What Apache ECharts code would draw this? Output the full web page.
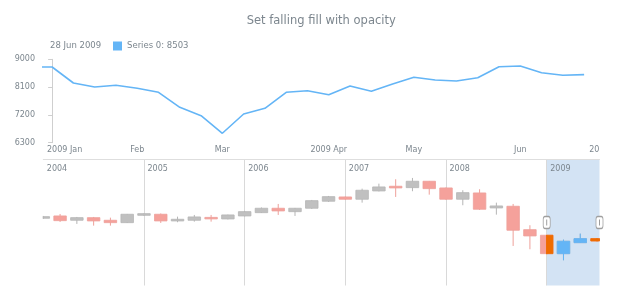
<!DOCTYPE html>
<html><head><meta charset="utf-8">
<script src="https://cdn.jsdelivr.net/npm/echarts@6/dist/echarts.min.js"></script>
<style>html,body{margin:0;padding:0;background:#fff}#c{width:620px;height:300px}</style>
</head><body><div id="c"></div>
<script>
// ---- data ----
const titleText = 'Set falling fill with opacity';
const seriesName = 'Series 0';
const viewStart = '2009-01-01';
const weekDates = ['2008-12-28','2009-01-04','2009-01-11','2009-01-18','2009-01-25','2009-02-01','2009-02-08','2009-02-15','2009-02-22','2009-03-01','2009-03-08','2009-03-15','2009-03-22','2009-03-29','2009-04-05','2009-04-12','2009-04-19','2009-04-26','2009-05-03','2009-05-10','2009-05-17','2009-05-24','2009-05-31','2009-06-07','2009-06-14','2009-06-21','2009-06-28'];
const weekValues = [8751,8751,8233,8104,8158,8061,7932,7446,7174,6605,7229,7414,7932,7984,7854,8136,7964,8200,8417,8330,8298,8404,8760,8783,8566,8482,8503];
const yTicks = [6300, 7200, 8100, 9000];
const monthNames = ['Jan','Feb','Mar','Apr','May','Jun','Jul','Aug','Sep','Oct','Nov','Dec'];

const periods = ['2004-01','2004-03','2004-05','2004-07','2004-09','2004-11','2005-01','2005-03','2005-05','2005-07','2005-09','2005-11','2006-01','2006-03','2006-05','2006-07','2006-09','2006-11','2007-01','2007-03','2007-05','2007-07','2007-09','2007-11','2008-01','2008-03','2008-05','2008-07','2008-09','2008-11','2009-01','2009-03','2009-05','2009-07'];
const candleOpen  = [10414,10630,10226,10471,10226,10001,10690,10790,10161,10226,10471,10349,10630,10940,11353,11034,11353,12011,12414,12198,12978,13419,13288,13889,13259,12198,12790,11381,11541,9344,8818,7090,8123,8499];
const candleClose = [10564,10189,10471,10161,10001,10790,10847,10161,10320,10536,10377,10724,11034,11353,11100,11353,12067,12442,12198,13043,13353,13259,13889,13194,12198,12818,11259,11569,9287,8752,7090,8255,8499,8283];
const candleLow   = [10349,10067,9879,9719,9719,9973,10630,9973,10039,10095,10095,10300,10583,10912,10724,10630,11287,11945,12133,11879,12930,12414,12950,12630,12133,11635,11194,10752,7813,7503,7043,6470,8095,8250];
const candleHigh  = [10630,10818,10536,10536,10471,10818,10880,10865,10564,10724,10724,10752,11100,11428,11757,11381,12133,12508,12461,13194,13663,14076,14198,13917,13307,13043,13137,11879,11757,9757,8846,8405,8968,8530];
const selectedFrom = '2009-01';

// ---- derived ----
const C_TEXT = '#7c868e', FONT = 'DejaVu Sans';
const DAY = 86400000;
const t = s => new Date(s + (s.length === 7 ? '-01' : '')).getTime();
const mon = s => new Date(t(s)).getUTCMonth();
const xMin = (t(viewStart) - t(weekDates[1])) / (7 * DAY);
const xMax = weekDates.length - 1;
const lineData = weekValues.map((v, p) => [p - 1, v]);
const monthTicks = [xMin];
for (let p = 2; p < weekDates.length; p++) if (mon(weekDates[p]) !== mon(weekDates[p - 1])) monthTicks.push(p - 1);
const nextDate = new Date(t(weekDates[weekDates.length - 1]) + 7 * DAY);
function labelFor(d) {
  const m = d.getUTCMonth();
  return (m % 3 === 0 ? d.getUTCFullYear() + ' ' : '') + monthNames[m];
}
function fmtMonth(v) {
  const p = v === xMin ? 1 : Math.round(v) + 1;
  return labelFor(new Date(t(weekDates[p])));
}
const lastDate = new Date(t(weekDates[weekDates.length - 1]));
const lastText = lastDate.getUTCDate() + ' ' + monthNames[lastDate.getUTCMonth()] + ' ' + lastDate.getUTCFullYear();
const lastVal = weekValues[weekValues.length - 1];

const candles = periods.map((p, k) => [k, candleOpen[k], candleClose[k], candleLow[k], candleHigh[k]]);
const selStart = periods.indexOf(selectedFrom);
const selCandles = candles.filter(c => c[0] >= selStart);

// scroller geometry
const scrLeft = 43.3, scrRight = 599.5, scrTop = 159.5, scrH = 126, step = 16.78;
const scrMax = (scrRight - scrLeft) / step;
const selLeft = scrLeft + selStart * step;
const sYMin = 4100, sYMax = 15930;
const handleY = (sYMin + sYMax) / 2;
const CW = 12.5;

function candleRenderer(upFill, upStroke, downFill, downStroke) {
  return function (params, api) {
    const x = api.value(0), o = api.value(1), c = api.value(2), lo = api.value(3), hi = api.value(4);
    const cs = params.coordSys;
    const pO = api.coord([x, o]), pC = api.coord([x, c]), pL = api.coord([x, lo]), pH = api.coord([x, hi]);
    const up = c >= o;
    const fill = up ? upFill : downFill, stroke = up ? upStroke : downStroke;
    const cx = pO[0];
    const hgt = Math.max(Math.abs(pO[1] - pC[1]), 1.5);
    const top = Math.min(pO[1], pC[1]) - (hgt - Math.abs(pO[1] - pC[1])) / 2;
    const children = [];
    if (cx >= cs.x && cx <= cs.x + cs.width) {
      children.push({type: 'line', shape: {x1: cx, y1: pH[1], x2: cx, y2: pL[1]}, style: {stroke: stroke, lineWidth: 1}});
    }
    const body = echarts.graphic.clipRectByRect(
      {x: cx - CW / 2, y: top, width: CW, height: hgt},
      {x: cs.x, y: cs.y, width: cs.width, height: cs.height});
    if (body) children.push({type: 'rect', shape: body, style: {fill: fill, stroke: stroke, lineWidth: 0.8}});
    return {type: 'group', children: children};
  };
}

const chart = echarts.init(document.getElementById('c'), null, {renderer: 'canvas'});
const handle = x => [
  {coord: [x, handleY], symbol: 'roundRect', symbolSize: [7, 12], itemStyle: {color: '#fff', borderColor: '#9e9e9e', borderWidth: 1}},
  {coord: [x, handleY], symbol: 'rect', symbolSize: [1, 6], itemStyle: {color: '#9e9e9e', borderWidth: 0}}
];
chart.setOption({
  animation: false,
  textStyle: {fontFamily: FONT},
  title: [
    {text: titleText, left: (43 + scrRight) / 2, textAlign: 'center', top: 15, padding: 0,
     textStyle: {fontSize: 11.5, fontWeight: 'normal', color: C_TEXT, fontFamily: FONT}},
    {text: lastText, left: 50, top: 41.5, padding: 0,
     textStyle: {fontSize: 8.5, fontWeight: 'normal', color: C_TEXT, fontFamily: FONT}}
  ],
  legend: {data: [seriesName], left: 113, top: 41.5, padding: 0, icon: 'rect', itemWidth: 9, itemHeight: 9,
    formatter: n => n + ': ' + lastVal, textStyle: {fontSize: 8.5, color: C_TEXT, fontFamily: FONT}},
  grid: [
    {left: 43, right: 620 - (43 + (xMax - xMin) * ((584 - 52) / 25)), top: 59.3, height: 83.4},
    {left: scrLeft, right: 620 - scrRight, top: scrTop, height: scrH},
    {left: selLeft, right: 620 - scrRight, top: scrTop, height: scrH, show: true, backgroundColor: '#d3e3f4', borderWidth: 0}
  ],
  xAxis: [
    {type: 'value', gridIndex: 0, min: xMin, max: xMax, position: 'bottom',
     axisLine: {show: false}, axisTick: {show: false}, splitLine: {show: false},
     axisLabel: {customValues: monthTicks, formatter: fmtMonth, color: C_TEXT, fontSize: 8, fontFamily: FONT,
       margin: 3, alignMinLabel: 'left', padding: [0, 4, 0, 4]}},
    {type: 'value', gridIndex: 1, min: 0, max: scrMax, interval: 6, position: 'top',
     axisLine: {show: true, lineStyle: {color: '#dedede', width: 1}}, axisTick: {show: false},
     splitLine: {show: true, showMinLine: false, showMaxLine: false, lineStyle: {color: '#d9d9d9', width: 1}},
     axisLabel: {inside: true, align: 'left', margin: 5, padding: [0, 0, 0, 3.5], color: C_TEXT, fontSize: 8, fontFamily: FONT,
       formatter: v => (Number.isInteger(v) && v % 6 === 0 && periods[v]) ? periods[v].slice(0, 4) : ''}},
    {type: 'value', gridIndex: 2, min: selStart, max: scrMax, show: false},
    {type: 'value', gridIndex: 0, min: xMin, max: xMax, position: 'bottom',
     axisLine: {show: false}, axisTick: {show: false}, splitLine: {show: false},
     axisLabel: {customValues: [xMax], formatter: () => labelFor(nextDate), color: C_TEXT, fontSize: 8, fontFamily: FONT,
       margin: 3, align: 'right', width: 12.5, overflow: 'truncate', ellipsis: '', padding: [0, 6, 0, 0]}}
  ],
  yAxis: [
    {type: 'value', gridIndex: 0, min: yTicks[0], max: yTicks[yTicks.length - 1], interval: yTicks[1] - yTicks[0],
     axisLine: {show: true, lineStyle: {color: '#cfcfcf'}}, axisTick: {show: true, length: 4, lineStyle: {color: '#cfcfcf'}},
     splitLine: {show: false}, axisLabel: {color: C_TEXT, fontSize: 8, fontFamily: FONT, margin: 8, formatter: v => String(v)}},
    {type: 'value', gridIndex: 1, min: sYMin, max: sYMax, show: false},
    {type: 'value', gridIndex: 2, min: sYMin, max: sYMax, show: false}
  ],
  series: [
    {name: seriesName, type: 'line', xAxisIndex: 0, yAxisIndex: 0, data: lineData, showSymbol: false,
     color: '#64b5f6', lineStyle: {color: '#64b5f6', width: 1.6}, clip: true},
    {name: 'scroller', type: 'custom', xAxisIndex: 1, yAxisIndex: 1, data: candles, encode: {x: 0, y: [1, 2, 3, 4]},
     renderItem: candleRenderer('#c0c0c0', '#b5b5b5', '#f5a19b', '#eea09a')},
    {name: 'selected', type: 'custom', xAxisIndex: 2, yAxisIndex: 2, data: selCandles, encode: {x: 0, y: [1, 2, 3, 4]},
     renderItem: candleRenderer('#64b5f6', '#64b5f6', '#ef6c00', '#ef6c00'),
     markPoint: {silent: true, label: {show: false}, data: handle(selStart).concat(handle(scrMax))}}
  ]
});
</script></body></html>
